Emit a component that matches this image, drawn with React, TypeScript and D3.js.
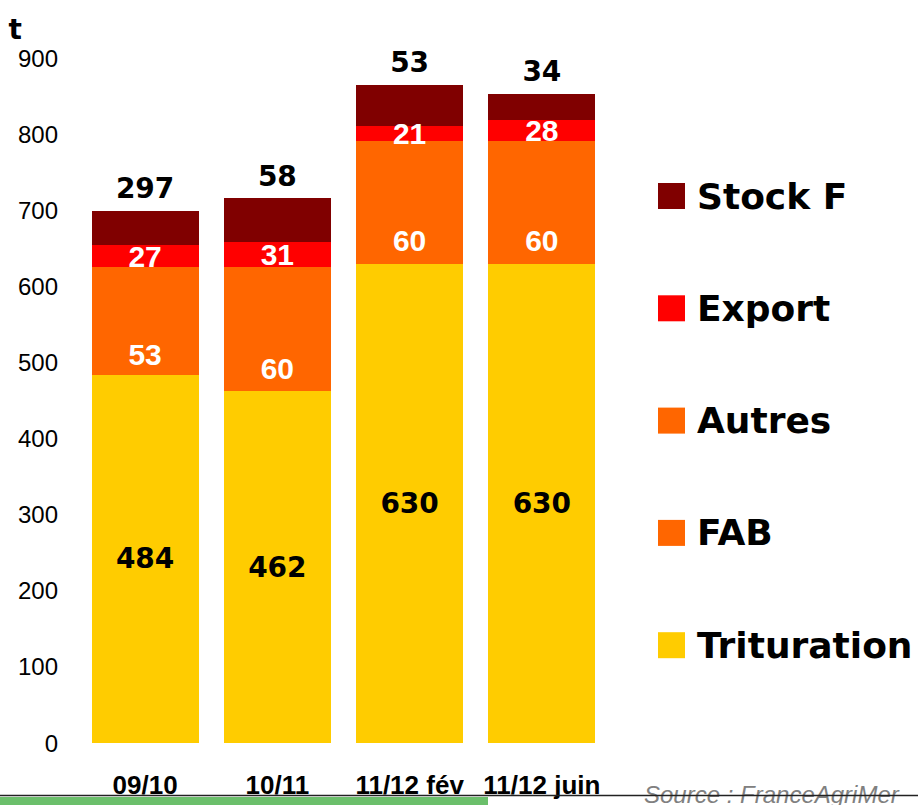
import * as d3 from "d3";
import { useEffect, useRef } from "react";

// données
const categories = ["09/10", "10/11", "11/12 fév", "11/12 juin"];
const trituration = [484, 462, 630, 630];
const fab = [53, 60, 60, 60];
const autres = [88, 103, 101, 101];
const exportVals = [29, 33, 20, 28];
const stock = [45, 58, 54, 34];

// étiquettes affichées
const tritLabels = ["484", "462", "630", "630"];
const fabLabels = ["53", "60", "60", "60"];
const exportLabels = ["27", "31", "21", "28"];
const stockLabels = ["297", "58", "53", "34"];

const yTicks = [0, 100, 200, 300, 400, 500, 600, 700, 800, 900];

const seriesNames = ["Trituration", "FAB", "Autres", "Export", "Stock F"];
const colors = ["#FFCC00", "#FF6600", "#FF6600", "#FF0000", "#800000"];

const W = 918;
const H = 805;

const App = () => {
  const chartRef = useRef<SVGSVGElement>(null);

  useEffect(() => {
    const svg = d3.select(chartRef.current);
    svg.selectAll("*").remove();

    const rows = categories.map((c, i) => ({
      cat: c,
      "Trituration": trituration[i],
      "FAB": fab[i],
      "Autres": autres[i],
      "Export": exportVals[i],
      "Stock F": stock[i],
    }));

    const stacked = d3.stack<any>().keys(seriesNames)(rows);

    const x = d3.scaleBand().domain(categories).range([79, 608])
      .paddingInner(0.19).paddingOuter(0.095);
    const y = d3.scaleLinear().domain([0, 900]).range([743, 58]);

    // barres empilées
    stacked.forEach((s, k) => {
      svg.append("g")
        .selectAll("rect")
        .data(s)
        .enter()
        .append("rect")
        .attr("x", (d: any) => Math.round(x(d.data.cat)!))
        .attr("y", (d) => Math.round(y(d[1])))
        .attr("width", Math.round(x.bandwidth()))
        .attr("height", (d) => Math.round(y(d[0])) - Math.round(y(d[1])))
        .attr("shape-rendering", "crispEdges")
        .style("fill", colors[k]);
    });

    const cx = (i: number) => x(categories[i])! + x.bandwidth() / 2;

    // étiquettes dans les barres
    const addLabels = (k: number, labels: string[], color: string, font: string, size: number) => {
      svg.append("g")
        .selectAll("text")
        .data(stacked[k])
        .enter()
        .append("text")
        .attr("x", (d, i) => cx(i))
        .attr("y", (d) => y((d[0] + d[1]) / 2))
        .attr("text-anchor", "middle")
        .attr("dominant-baseline", "central")
        .style("font-family", font)
        .style("font-weight", "bold")
        .style("font-size", size + "px")
        .style("fill", color)
        .text((d, i) => labels[i]);
    };
    addLabels(0, tritLabels, "#000", "DejaVu Sans", 28);
    addLabels(1, fabLabels, "#fff", "Liberation Sans", 30);
    addLabels(3, exportLabels, "#fff", "Liberation Sans", 30);

    // stock au-dessus des barres
    svg.append("g")
      .selectAll("text")
      .data(stacked[4])
      .enter()
      .append("text")
      .attr("x", (d, i) => cx(i))
      .attr("y", (d) => y(d[1]) - 22)
      .attr("text-anchor", "middle")
      .attr("dominant-baseline", "central")
      .style("font-family", "DejaVu Sans")
      .style("font-weight", "bold")
      .style("font-size", "28px")
      .text((d, i) => stockLabels[i]);

    // axe Y (étiquettes seulement)
    svg.append("g")
      .selectAll("text")
      .data(yTicks)
      .enter()
      .append("text")
      .attr("x", 58)
      .attr("y", (d) => y(d))
      .attr("text-anchor", "end")
      .attr("dominant-baseline", "central")
      .style("font-family", "Liberation Sans")
      .style("font-size", "24px")
      .text((d) => d);

    svg.append("text")
      .attr("x", 22)
      .attr("y", 39)
      .attr("text-anchor", "end")
      .style("font-family", "DejaVu Sans")
      .style("font-weight", "bold")
      .style("font-size", "28px")
      .text("1000 t");

    // axe X
    svg.append("g")
      .selectAll("text")
      .data(categories)
      .enter()
      .append("text")
      .attr("x", (d) => x(d)! + x.bandwidth() / 2)
      .attr("y", 794)
      .attr("text-anchor", "middle")
      .style("font-family", "Liberation Sans")
      .style("font-weight", "bold")
      .style("font-size", "26px")
      .text((d) => d);

    // légende
    const legendItems = ["Stock F", "Export", "Autres", "FAB", "Trituration"];
    const legendColors = ["#800000", "#FF0000", "#FF6600", "#FF6600", "#FFCC00"];
    const lg = svg.append("g");
    legendItems.forEach((name, i) => {
      const cy = 196 + i * 112.3;
      lg.append("rect")
        .attr("x", 658)
        .attr("y", cy - 13)
        .attr("width", 27)
        .attr("height", 26)
        .style("fill", legendColors[i]);
      lg.append("text")
        .attr("x", 697)
        .attr("y", cy)
        .attr("dominant-baseline", "central")
        .style("font-family", "DejaVu Sans")
        .style("font-weight", "bold")
        .style("font-size", "36px")
        .text(name);
    });

    // bas de page
    svg.append("rect")
      .attr("x", 0).attr("y", 797)
      .attr("width", 488).attr("height", 8)
      .style("fill", "#6BBF6B");
    svg.append("text")
      .attr("x", 644)
      .attr("y", 803)
      .style("font-family", "Liberation Sans")
      .style("font-style", "italic")
      .style("font-size", "24px")
      .style("fill", "#808080")
      .text("Source : FranceAgriMer");
    svg.append("line")
      .attr("x1", 0).attr("x2", W)
      .attr("y1", 795.5).attr("y2", 795.5)
      .style("stroke", "#222")
      .style("stroke-width", 1.5);
  }, []);

  return (
    <svg ref={chartRef} width={W} height={H}
      style={{ position: "absolute", left: 0, top: 0, background: "#fff" }} />
  );
};

export default App;
